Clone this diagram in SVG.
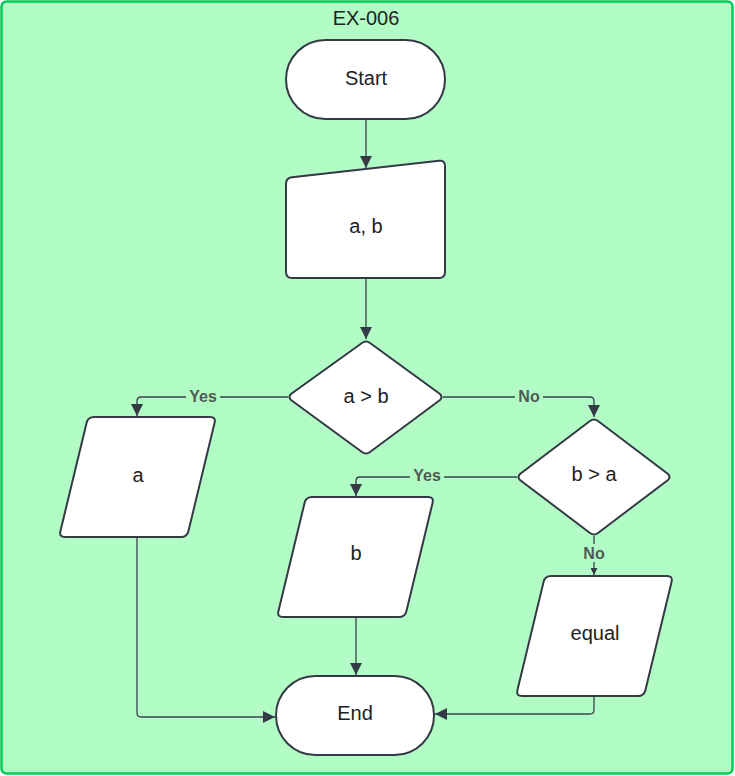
<svg xmlns="http://www.w3.org/2000/svg" xmlns:xlink="http://www.w3.org/1999/xlink" width="735" height="776" viewBox="0 0 735 776">
<style>
.shape{fill:#ffffff;stroke:#343a45;stroke-width:2}
.txt{font-family:"Liberation Sans",Arial,sans-serif;font-size:20px;fill:#222;text-anchor:middle;dominant-baseline:central}
.lbl{font-family:"Liberation Sans",Arial,sans-serif;font-size:16px;font-weight:bold;fill:#505a55;text-anchor:middle;dominant-baseline:central}
.lblbg{fill:#b2fdc5}
.conn{fill:none;stroke:#3a414b;stroke-width:1.3}
</style>
<defs>
<marker id="arr" viewBox="0 0 10 10" refX="10" refY="5" markerWidth="12" markerHeight="12" markerUnits="userSpaceOnUse" orient="auto">
<path d="M0,0 L10,5 L0,10 Z" fill="#343a45"/>
</marker>
<marker id="arrs" viewBox="0 0 10 10" refX="10" refY="5" markerWidth="7" markerHeight="7" markerUnits="userSpaceOnUse" orient="auto">
<path d="M0,0 L10,5 L0,10 Z" fill="#343a45"/>
</marker>
<path id="para" d="M94,417 L210,417 Q216,417 214.6,422.8 L188.4,531.2 Q187,537 181,537 L65,537 Q59,537 60.4,531.2 L86.6,422.8 Q88,417 94,417 Z"/>
</defs>
<g id="container">
<rect x="1.5" y="1.5" width="731" height="772" rx="5" fill="#b2fdc5" stroke="#00cc55" stroke-width="2.5"/>
<text class="txt" x="366" y="18">EX-006</text>
</g>
<g id="connectors">
<path class="conn" d="M366,119 L366,168" marker-end="url(#arr)"/>
<path class="conn" d="M366,278 L366,339" marker-end="url(#arr)"/>
<path class="conn" d="M288,397 L141,397 Q137,397 137,401 L137,416" marker-end="url(#arr)"/>
<path class="conn" d="M443,397 L590,397 Q594,397 594,401 L594,417" marker-end="url(#arr)"/>
<path class="conn" d="M517,477 L360,477 Q356,477 356,481 L356,496" marker-end="url(#arr)"/>
<path class="conn" d="M594,536 L594,575" marker-end="url(#arrs)"/>
<path class="conn" d="M137,537 L137,713 Q137,717 141,717 L275,717" marker-end="url(#arr)"/>
<path class="conn" d="M356,615 L356,675" marker-end="url(#arr)"/>
<path class="conn" d="M594,695 L594,710 Q594,714 590,714 L435,714" marker-end="url(#arr)"/>
<rect class="lblbg" x="186" y="388" width="34" height="18"/>
<text class="lbl" x="203" y="396">Yes</text>
<rect class="lblbg" x="515" y="388" width="28" height="18"/>
<text class="lbl" x="529" y="396">No</text>
<rect class="lblbg" x="410" y="467" width="34" height="18"/>
<text class="lbl" x="427" y="475">Yes</text>
<rect class="lblbg" x="580" y="544" width="28" height="18"/>
<text class="lbl" x="594" y="553">No</text>
</g>
<g id="start">
<rect class="shape" x="286" y="40" width="159" height="79" rx="39.5"/>
<text class="txt" x="366" y="78">Start</text>
</g>
<g id="input-ab">
<path class="shape" d="M292,177.3 L439,160.7 Q445,160 445,166 L445,272 Q445,278 439,278 L292,278 Q286,278 286,272 L286,184 Q286,178 292,177.3 Z"/>
<text class="txt" x="366" y="226">a, b</text>
</g>
<g id="decision-a-gt-b">
<path class="shape" d="M362,343 Q366,340 370,343 L440,394 Q443,397 440,400 L370,452 Q366,455 362,452 L291,400 Q288,397 291,394 Z"/>
<text class="txt" x="366" y="396">a &gt; b</text>
</g>
<g id="output-a">
<use href="#para" xlink:href="#para" class="shape"/>
<text class="txt" x="138" y="475">a</text>
</g>
<g id="decision-b-gt-a">
<path class="shape" d="M590,421 Q594,418 598,421 L668,474 Q671,477 668,480 L598,533 Q594,536 590,533 L520,480 Q517,477 520,474 Z"/>
<text class="txt" x="594" y="474">b &gt; a</text>
</g>
<g id="output-b">
<use href="#para" xlink:href="#para" class="shape" transform="translate(218,80)"/>
<text class="txt" x="356" y="553">b</text>
</g>
<g id="output-equal">
<use href="#para" xlink:href="#para" class="shape" transform="translate(457,159)"/>
<text class="txt" x="595" y="633">equal</text>
</g>
<g id="end">
<rect class="shape" x="276" y="676" width="158" height="79" rx="39.5"/>
<text class="txt" x="355" y="713">End</text>
</g>
</svg>
